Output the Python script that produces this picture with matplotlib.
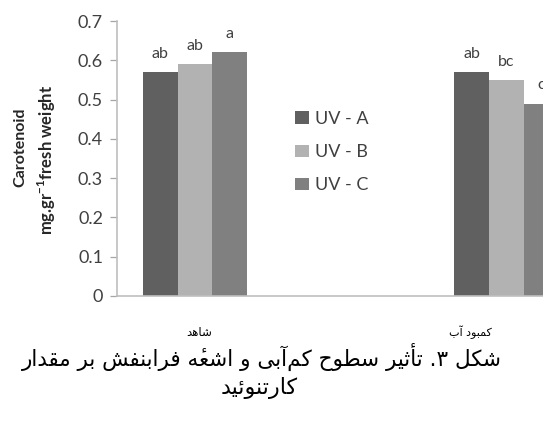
import numpy as np
import matplotlib
matplotlib.use("Agg")
import matplotlib.pyplot as plt

# ---------------- data ----------------
categories = ["شاهد", "کمبود آب"]
series_names = ["UV - A", "UV - B", "UV - C"]
uv_a = [0.57, 0.57]
uv_b = [0.59, 0.55]
uv_c = [0.62, 0.49]
letters_a = ["ab", "ab"]
letters_b = ["ab", "bc"]
letters_c = ["a", "c"]
yticks = [0, 0.1, 0.2, 0.3, 0.4, 0.5, 0.6, 0.7]
ytick_labels = ["0", "0.1", "0.2", "0.3", "0.4", "0.5", "0.6", "0.7"]
caption_line1 = "شکل ۳. تأثیر سطوح کم\u200cآبی و اشعهٔ فرابنفش بر مقدار"
caption_line2 = "کارتنوئید"

colors = ["#606060", "#b2b2b2", "#808080"]

# ------------- simple Persian shaping (presentation forms, visual order) -------------
FORMS = {
    '\u0622': ('\uFE81', '\uFE82', None, None),
    '\u0623': ('\uFE83', '\uFE84', None, None),
    '\u0626': ('\uFE89', '\uFE8A', '\uFE8B', '\uFE8C'),
    '\u0627': ('\uFE8D', '\uFE8E', None, None),
    '\u0628': ('\uFE8F', '\uFE90', '\uFE91', '\uFE92'),
    '\u062A': ('\uFE95', '\uFE96', '\uFE97', '\uFE98'),
    '\u062B': ('\uFE99', '\uFE9A', '\uFE9B', '\uFE9C'),
    '\u062D': ('\uFEA1', '\uFEA2', '\uFEA3', '\uFEA4'),
    '\u062F': ('\uFEA9', '\uFEAA', None, None),
    '\u0631': ('\uFEAD', '\uFEAE', None, None),
    '\u0633': ('\uFEB1', '\uFEB2', '\uFEB3', '\uFEB4'),
    '\u0634': ('\uFEB5', '\uFEB6', '\uFEB7', '\uFEB8'),
    '\u0637': ('\uFEC1', '\uFEC2', '\uFEC3', '\uFEC4'),
    '\u0639': ('\uFEC9', '\uFECA', '\uFECB', '\uFECC'),
    '\u0641': ('\uFED1', '\uFED2', '\uFED3', '\uFED4'),
    '\u0642': ('\uFED5', '\uFED6', '\uFED7', '\uFED8'),
    '\u0644': ('\uFEDD', '\uFEDE', '\uFEDF', '\uFEE0'),
    '\u0645': ('\uFEE1', '\uFEE2', '\uFEE3', '\uFEE4'),
    '\u0646': ('\uFEE5', '\uFEE6', '\uFEE7', '\uFEE8'),
    '\u0647': ('\uFEE9', '\uFEEA', '\uFEEB', '\uFEEC'),
    '\u0648': ('\uFEED', '\uFEEE', None, None),
    '\u06A9': ('\uFB8E', '\uFB8F', '\uFB90', '\uFB91'),
    '\u06CC': ('\uFBFC', '\uFBFD', '\uFBFE', '\uFBFF'),
}
MARKS = {'\u0654'}


def shape(s):
    # drop ZWNJ but remember it breaks joining
    out = []
    n = len(s)

    def joins_next(c):
        return c in FORMS and FORMS[c][2] is not None

    def prev_base(i):
        j = i - 1
        while j >= 0 and s[j] in MARKS:
            j -= 1
        return s[j] if j >= 0 else ''

    def next_base(i):
        j = i + 1
        while j < n and s[j] in MARKS:
            j += 1
        return s[j] if j < n else ''

    for i, c in enumerate(s):
        if c == '\u200c':
            continue
        if c in MARKS:
            # place the mark before its base in logical list -> after it once reversed
            out.insert(len(out) - 1, c)
            continue
        if c not in FORMS:
            out.append(c)
            continue
        jp = joins_next(prev_base(i))
        jn = joins_next(c) and (next_base(i) in FORMS)
        iso, fin, ini, med = FORMS[c]
        if jp and jn:
            out.append(med)
        elif jp:
            out.append(fin)
        elif jn:
            out.append(ini)
        else:
            out.append(iso)
    return ''.join(reversed(out))


plt.rcParams['font.family'] = ['Lato', 'DejaVu Sans']
plt.rcParams['mathtext.fontset'] = 'custom'
plt.rcParams['mathtext.rm'] = 'Lato'
plt.rcParams['mathtext.bf'] = 'Lato:bold'

W, H = 543, 426
fig = plt.figure(figsize=(W / 100, H / 100), dpi=100)

# axes: left spine at x=117px, baseline y=296px, top (0.7) at y=21px; 3 category slots of ~155.7px
left_px, base_px, top_px, slot_px = 117, 296, 21, 155.7
ax = fig.add_axes([left_px / W, (H - base_px) / H, 3 * slot_px / W, (base_px - top_px) / H])
ax.set_xlim(-0.5, 2.5)
ax.set_ylim(0, 0.7)

x = np.array([0.0, 2.0])
bw = 34.6 / slot_px
series = [uv_a, uv_b, uv_c]
letters = [letters_a, letters_b, letters_c]
handles = []
for k, (vals, col, name, labs) in enumerate(zip(series, colors, series_names, letters)):
    pos = x + (k - 1) * bw
    b = ax.bar(pos, vals, width=bw, color=col, label=name, linewidth=0, clip_on=False)
    handles.append(b)
    for p, v, t in zip(pos, vals, labs):
        ax.annotate(t, (p, v), xytext=(0, 8), textcoords='offset points',
                    ha='center', va='bottom', fontsize=11.5, color='#404040')

ax.set_yticks(yticks)
ax.set_yticklabels(ytick_labels, fontsize=13, color='#404040')
ax.set_xticks([])
ax.tick_params(axis='y', length=5, width=0.9, color='#a6a6a6', pad=5)
for s in ['top', 'right']:
    ax.spines[s].set_visible(False)
for s in ['left', 'bottom']:
    ax.spines[s].set_color('#bfbfbf')
    ax.spines[s].set_linewidth(1.2)

# y labels (two lines)
fig.text(20 / W, 1 - 147 / H, "Carotenoid", rotation=90, ha='center', va='center',
         fontsize=11.5, fontweight='bold', color='#262626')
fig.text(47 / W, 1 - 160 / H, r"mg.gr$^{\mathbf{-1}}$fresh weight", rotation=90,
         ha='center', va='center', fontsize=12, fontweight='bold', color='#262626')

# legend
leg = fig.legend(handles=handles, labels=series_names, loc='center left',
                 bbox_to_anchor=(295 / W, 1 - 152 / H), frameon=False, fontsize=13,
                 handlelength=0.75, handleheight=0.65, handletextpad=0.35,
                 labelspacing=0.95, borderaxespad=0, borderpad=0)
for t in leg.get_texts():
    t.set_color('#404040')

# category labels
fig.text(199 / W, 1 - 332 / H, shape(categories[0]), ha='center', va='center',
         fontsize=8.5, family='DejaVu Sans', color='#000000')
fig.text(470 / W, 1 - 332 / H, shape(categories[1]), ha='center', va='center',
         fontsize=8, family='DejaVu Sans', color='#000000')

# caption
fig.text(262 / W, 1 - 357 / H, shape(caption_line1), ha='center', va='center',
         fontsize=15.5, family='DejaVu Sans', color='#000000')
fig.text(259 / W, 1 - 388 / H, shape(caption_line2), ha='center', va='center',
         fontsize=16, family='DejaVu Sans', color='#000000')

fig.savefig("out.png", dpi=100)
